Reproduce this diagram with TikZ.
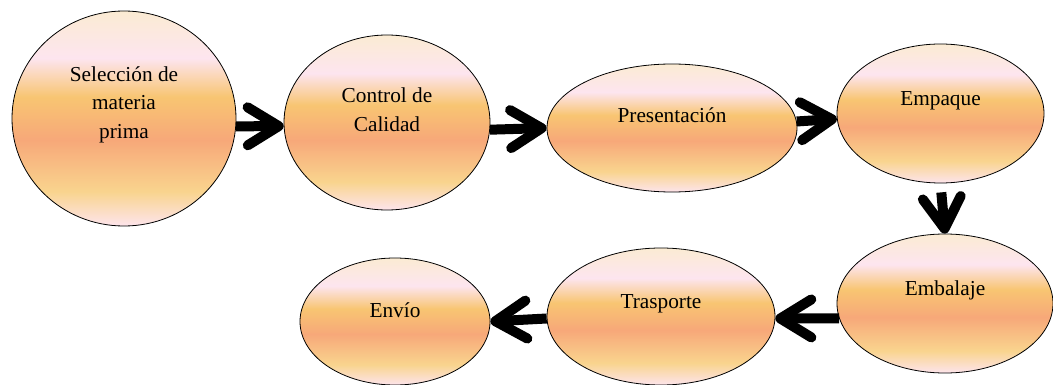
\documentclass[tikz,border=0pt]{standalone}
\usepackage{fontspec}
\setmainfont{Liberation Serif}
\usetikzlibrary{shapes.geometric,arrows.meta}
\definecolor{lsA}{RGB}{251,235,211}
\definecolor{lsB}{RGB}{253,229,239}
\definecolor{lsC}{RGB}{248,197,114}
\definecolor{lsD}{RGB}{247,168,121}
\definecolor{lsE}{RGB}{249,212,142}
\definecolor{lsF}{RGB}{253,228,236}
\pgfdeclareverticalshading{latesun}{100bp}{%
  color(0bp)=(lsF); color(25bp)=(lsF);
  color(33bp)=(lsE); color(45bp)=(lsD); color(55bp)=(lsC);
  color(64bp)=(lsB); color(75bp)=(lsA); color(100bp)=(lsA)}
\tikzset{
  ell/.style={ellipse, draw=black, line width=0.8pt, shading=latesun, inner sep=0pt},
  lbl/.style={align=center, font=\fontsize{21.3}{28.5}\selectfont, inner sep=0pt},
  flow/.style={line width=10pt, -{Straight Barb[length=31pt,width=38pt,round]}}
}
\begin{document}
\begin{tikzpicture}[x=1pt,y=-1pt]
\useasboundingbox (0,0) rectangle (1053,385);
\node[ell, minimum width=224pt, minimum height=215pt] (sel) at (124,118.5) {};
\node[ell, minimum width=206pt, minimum height=175pt] (ctrl) at (387,122.5) {};
\node[ell, minimum width=250pt, minimum height=128pt] (pres) at (672,128) {};
\node[ell, minimum width=207pt, minimum height=139pt] (emp) at (940.5,113.5) {};
\node[ell, minimum width=216pt, minimum height=139pt] (emb) at (945,303.5) {};
\node[ell, minimum width=228pt, minimum height=137pt] (tra) at (661,316.5) {};
\node[ell, minimum width=190pt, minimum height=127pt] (env) at (395,321.5) {};

\node[lbl] (selT) at ([yshift=14pt]sel.center) {Selección de\\materia\\prima};
\node[lbl] (ctrlT) at ([yshift=13pt]ctrl.center) {Control de\\Calidad};
\node[lbl] (presT) at ([yshift=13pt]pres.center) {Presentación};
\node[lbl] (empT) at ([yshift=13pt]emp.center) {Empaque};
\node[lbl] (embT) at ([yshift=13pt]emb.center) {Embalaje};
\node[lbl] (traT) at ([yshift=13pt]tra.center) {Trasporte};
\node[lbl] (envT) at ([yshift=11pt]env.center) {Envío};

\draw[flow] (sel.-4.35) -- (ctrl.182.5);
\draw[flow] (ctrl.-4.18) -- (pres.180.9);
\draw[flow] (pres.3.7) -- (emp.183.6);
\draw[flow, shorten <=9pt] (emp.south) -- (emb.north);
\draw[flow] (emb.188.4) -- (tra.-1.26);
\draw[flow] (tra.181.76) -- (env.0.9);
\end{tikzpicture}
\end{document}
